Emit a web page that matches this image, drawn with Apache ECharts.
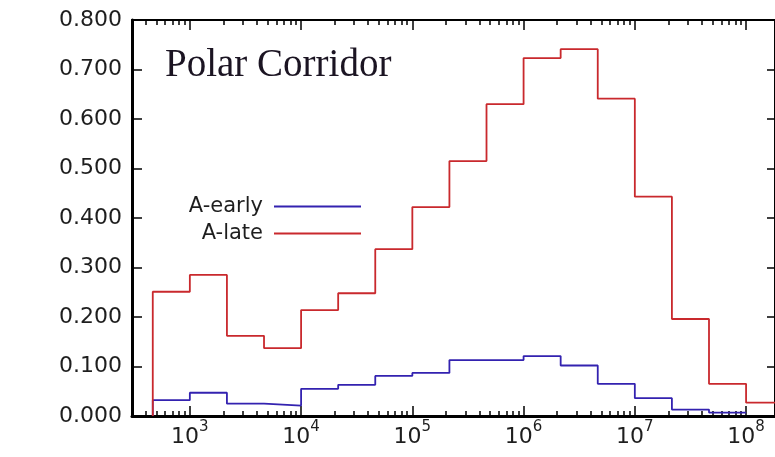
<!DOCTYPE html>
<html>
<head>
<meta charset="utf-8">
<title>Polar Corridor</title>
<script src="https://cdn.jsdelivr.net/npm/echarts@6/dist/echarts.min.js"></script>
<style>
  html, body { margin: 0; padding: 0; background: #ffffff; }
  #chart { width: 775px; height: 457px; }
</style>
</head>
<body>
<div id="chart"></div>
<script>
// Histogram bin edges, as log10 of the quantity on the x axis (three bins per decade)
const binEdgesLog10 = [2.6667, 3.0, 3.3333, 3.6667, 4.0, 4.3333, 4.6667, 5.0, 5.3333,
                       5.6667, 6.0, 6.3333, 6.6667, 7.0, 7.3333, 7.6667, 8.0, 8.3333];

// Fraction per bin for each sample
const aEarly = [0.032, 0.047, 0.025, 0.021, 0.055, 0.063, 0.081, 0.087, 0.113,
                0.113, 0.121, 0.102, 0.065, 0.036, 0.013, 0.007];
const aLate  = [0.251, 0.285, 0.162, 0.137, 0.214, 0.248, 0.337, 0.422, 0.515,
                0.630, 0.723, 0.741, 0.641, 0.443, 0.196, 0.065, 0.027];

const seriesNames = ['A-early', 'A-late'];
const decadeTicks = [3, 4, 5, 6, 7, 8];          // labelled as 10^n
const chartTitle = 'Polar Corridor';

const xMin = 2.48, xMax = 8.26;

// log-scale minor ticks at 2..9 x 10^n
const minorTicks = [];
for (let d = 2; d <= 8; d++) {
  for (let k = 2; k <= 9; k++) {
    const t = d + Math.log10(k);
    if (t > xMin && t < xMax) minorTicks.push(t);
  }
}

// Turn bin edges + values into a step outline starting from zero
function stepOutline(values) {
  const pts = [[binEdgesLog10[0], 0]];
  values.forEach((v, i) => pts.push([binEdgesLog10[i], v]));
  pts.push([binEdgesLog10[values.length], values[values.length - 1]]);
  return pts;
}

const FONT = 'DejaVu Sans';
const INK = '#1e1e1e';
const BLUE = '#3322b0';
const RED = '#c9292d';

function xAxisDef(position, ticks, tickLen, showLine, showLabels) {
  return {
    type: 'value', position: position, min: xMin, max: xMax,
    axisLine: { show: showLine, onZero: false, lineStyle: { color: '#000', width: position === 'bottom' ? 3 : 2 } },
    axisTick: { show: true, inside: true, length: tickLen, customValues: ticks,
                lineStyle: { color: '#000', width: 1.5 } },
    axisLabel: showLabels ? {
      show: true, customValues: decadeTicks, margin: 10,
      formatter: v => '{b|10}{s|' + Math.round(v) + '}',
      rich: {
        b: { fontFamily: FONT, fontSize: 22, lineHeight: 22, color: INK },
        s: { fontFamily: FONT, fontSize: 15, lineHeight: 15, color: INK, padding: [0, 0, 19, 0] }
      }
    } : { show: false },
    splitLine: { show: false }
  };
}

function yAxisDef(position, showLabels) {
  return {
    type: 'value', position: position, min: 0, max: 0.8, interval: 0.1,
    axisLine: { show: true, onZero: false, lineStyle: { color: '#000', width: position === 'left' ? 3 : 2 } },
    axisTick: { show: true, inside: true, length: position === 'left' ? 10 : 8,
                lineStyle: { color: '#000', width: 1.5 } },
    axisLabel: showLabels ? {
      show: true, margin: 10, fontFamily: FONT, fontSize: 22, color: INK,
      formatter: v => v.toFixed(3)
    } : { show: false },
    splitLine: { show: false }
  };
}

const chart = echarts.init(document.getElementById('chart'), null, { renderer: 'canvas' });

chart.setOption({
  animation: false,
  backgroundColor: '#ffffff',
  title: {
    text: chartTitle, left: 165, top: 46, padding: 0,
    textStyle: { fontFamily: 'Liberation Serif', fontWeight: 'normal', fontSize: 39, color: '#1b1422' }
  },
  legend: {
    orient: 'vertical', align: 'right', right: 414, top: 196, padding: 0,
    itemGap: 6, itemWidth: 87, itemHeight: 2, icon: 'rect',
    itemStyle: { borderWidth: 0 },
    selectedMode: false,
    data: seriesNames,
    textStyle: { fontFamily: FONT, fontSize: 21, lineHeight: 21, color: INK, padding: [0, 6, 0, 0] }
  },
  grid: { left: 132, right: -2, top: 20, bottom: 41, containLabel: false },
  xAxis: [
    xAxisDef('bottom', decadeTicks, 10, true, true),
    xAxisDef('bottom', minorTicks, 5, false, false),
    xAxisDef('top', decadeTicks, 10, true, false),
    xAxisDef('top', minorTicks, 5, false, false)
  ],
  yAxis: [
    yAxisDef('left', true),
    yAxisDef('right', false)
  ],
  series: [
    {
      name: seriesNames[0], type: 'line', step: 'end', symbol: 'none',
      xAxisIndex: 0, yAxisIndex: 0, color: BLUE,
      lineStyle: { color: BLUE, width: 1.8 },
      data: stepOutline(aEarly), z: 3
    },
    {
      name: seriesNames[1], type: 'line', step: 'end', symbol: 'none',
      xAxisIndex: 0, yAxisIndex: 0, color: RED,
      lineStyle: { color: RED, width: 1.8 },
      data: stepOutline(aLate), z: 4
    }
  ]
});
</script>
</body>
</html>
